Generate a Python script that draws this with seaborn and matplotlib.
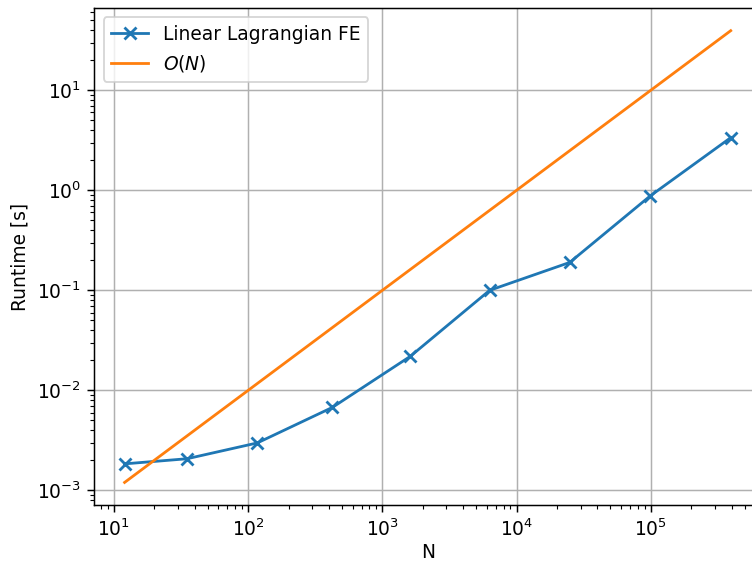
import numpy as np
import pandas as pd
import seaborn as sns
import matplotlib
matplotlib.use('Agg')
import matplotlib.pyplot as plt

# number of unknowns and measured runtime [s]
n_dofs = [12, 35, 117, 425, 1617, 6305, 24897, 98945, 394497]
runtime = [1.84e-3, 2.07e-3, 2.98e-3, 6.76e-3, 2.19e-2, 0.100, 0.19, 0.877, 3.36]
# reference O(N) line: runtime = c * N
on_coeff = 1e-4

DPI = 134
fig, ax = plt.subplots(figsize=(752 / DPI, 562 / DPI), dpi=DPI)
# right edge of the axes sits just past the picture, like the reference
fig.subplots_adjust(left=0.1254, right=1.012, top=0.9856, bottom=0.1014)

df = pd.DataFrame({'N': n_dofs, 'runtime': runtime})
df['ref'] = on_coeff * df['N']

blue = '#1f77b4'
orange = '#ff7f0e'
sns.lineplot(data=df, x='N', y='runtime', ax=ax, color=blue, marker='x',
             markersize=6, markeredgewidth=1.5, markeredgecolor=blue,
             linewidth=1.5, label='Linear Lagrangian FE')
sns.lineplot(data=df, x='N', y='ref', ax=ax, color=orange, linewidth=1.5,
             label=r'$O(N)$')

ax.set_xscale('log')
ax.set_yscale('log')
ax.set_xlabel('N', labelpad=2)
ax.set_ylabel('Runtime [s]')
ax.grid(True, which='major', color='#b0b0b0', linewidth=0.8)
ax.legend(loc='upper left')

plt.savefig('out.png', dpi=DPI)
